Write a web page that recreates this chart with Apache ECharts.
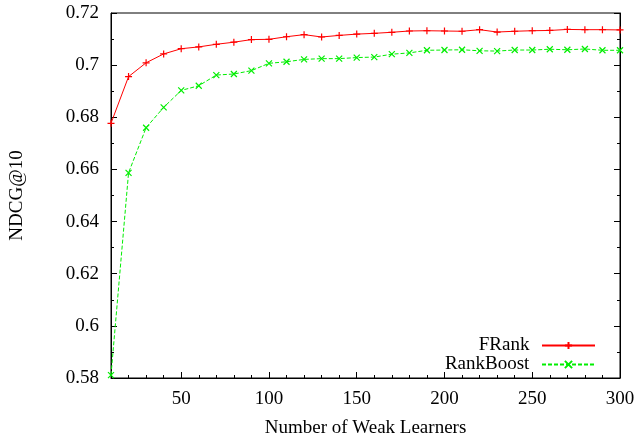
<!DOCTYPE html>
<html>
<head>
<meta charset="utf-8">
<script src="https://cdn.jsdelivr.net/npm/echarts@6/dist/echarts.min.js"></script>
<style>
  html, body { margin: 0; padding: 0; background: #fff; }
  #chart { width: 637px; height: 436px; }
</style>
</head>
<body>
<div id="chart"></div>
<script>
// Number of boosting rounds (weak learners)
const weakLearners = [10, 20, 30, 40, 50, 60, 70, 80, 90, 100,
  110, 120, 130, 140, 150, 160, 170, 180, 190, 200,
  210, 220, 230, 240, 250, 260, 270, 280, 290, 300];

// NDCG@10 per round
const frank = [0.6777, 0.6956, 0.7009, 0.7043, 0.7063, 0.7070, 0.7080, 0.7088, 0.7098, 0.7099,
  0.7109, 0.7117, 0.7108, 0.7114, 0.7119, 0.7122, 0.7126, 0.7131, 0.7132, 0.7131,
  0.7130, 0.7136, 0.7127, 0.7130, 0.7132, 0.7133, 0.7137, 0.7136, 0.7136, 0.7135];

const rankBoost = [0.5811, 0.6587, 0.6760, 0.6838, 0.6903, 0.6921, 0.6962, 0.6966, 0.6979, 0.7007,
  0.7013, 0.7022, 0.7025, 0.7025, 0.7029, 0.7031, 0.7042, 0.7047, 0.7057, 0.7058,
  0.7059, 0.7055, 0.7054, 0.7058, 0.7058, 0.7061, 0.7059, 0.7062, 0.7057, 0.7057];

const xMajorTicks = [50, 100, 150, 200, 250, 300];

const FONT = '"Liberation Serif", "DejaVu Serif", serif';
const plusSymbol = 'path://M0,5 L10,5 M5,0 L5,10';
const crossSymbol = 'path://M0,0 L10,10 M0,10 L10,0';

const toPairs = (xs, ys) => xs.map((x, i) => [x, ys[i]]);

const chart = echarts.init(document.getElementById('chart'), null, { renderer: 'canvas' });

const textStyle = { fontFamily: FONT, fontSize: 19, color: '#000' };

chart.setOption({
  animation: false,
  backgroundColor: '#fff',
  grid: {
    left: 111, right: 17, top: 13, bottom: 58,
    outerBoundsMode: 'none',
    show: true, borderColor: '#000', borderWidth: 1
  },
  legend: {
    orient: 'vertical',
    right: 36,
    top: 331,
    align: 'right',
    itemGap: 0,
    itemWidth: 53,
    itemHeight: 9,
    selectedMode: false,
    // thin spaces widen the gap between label and line sample
    formatter: name => name + '\u2009\u2009',
    textStyle: textStyle,
    data: ['FRank', 'RankBoost']
  },
  xAxis: [
    {
      type: 'value',
      min: 10, max: 300,
      name: 'Number of Weak Learners',
      nameLocation: 'middle',
      nameGap: 41,
      nameTextStyle: textStyle,
      axisLine: { show: true, lineStyle: { color: '#000', width: 1 } },
      axisTick: { show: true, inside: true, length: 6, customValues: xMajorTicks,
        lineStyle: { color: '#000' } },
      axisLabel: Object.assign({ customValues: xMajorTicks, margin: 12 }, textStyle),
      splitLine: { show: false }
    },
    {
      type: 'value',
      min: 10, max: 300, interval: 10,
      position: 'bottom',
      axisLine: { show: false },
      axisTick: { show: true, inside: true, length: 3, lineStyle: { color: '#000' } },
      axisLabel: { show: false },
      splitLine: { show: false }
    }
  ],
  yAxis: [
    {
      type: 'value',
      min: 0.58, max: 0.72, interval: 0.02,
      name: 'NDCG@10',
      nameLocation: 'middle',
      nameGap: 84,
      nameTextStyle: textStyle,
      axisLine: { show: true, lineStyle: { color: '#000', width: 1 } },
      axisTick: { show: true, inside: true, length: 6, lineStyle: { color: '#000' } },
      minorTick: { show: true, splitNumber: 2, length: 3, lineStyle: { color: '#000' } },
      axisLabel: Object.assign({ margin: 12, formatter: v => String(+v.toFixed(2)) }, textStyle),
      splitLine: { show: false }
    },
    {
      type: 'value',
      min: 0.58, max: 0.72, interval: 0.02,
      position: 'right',
      axisLine: { show: true, lineStyle: { color: '#000', width: 1 } },
      axisTick: { show: true, inside: true, length: 6, lineStyle: { color: '#000' } },
      minorTick: { show: true, splitNumber: 2, length: 3, lineStyle: { color: '#000' } },
      axisLabel: { show: false },
      splitLine: { show: false }
    }
  ],
  series: [
    {
      name: 'FRank',
      type: 'line',
      data: toPairs(weakLearners, frank),
      symbol: plusSymbol,
      symbolSize: 7,
      showAllSymbol: true,
      lineStyle: { color: '#ff0000', width: 1 },
      itemStyle: { color: '#ff0000', borderColor: '#ff0000', borderWidth: 1.2 },
      emphasis: { disabled: true },
      z: 3
    },
    {
      name: 'RankBoost',
      type: 'line',
      data: toPairs(weakLearners, rankBoost),
      symbol: crossSymbol,
      symbolSize: 6,
      showAllSymbol: true,
      lineStyle: { color: '#00ee00', width: 1, type: [4, 2] },
      itemStyle: { color: '#00ee00', borderColor: '#00ee00', borderWidth: 1.2 },
      emphasis: { disabled: true },
      z: 2
    }
  ]
});
</script>
</body>
</html>
